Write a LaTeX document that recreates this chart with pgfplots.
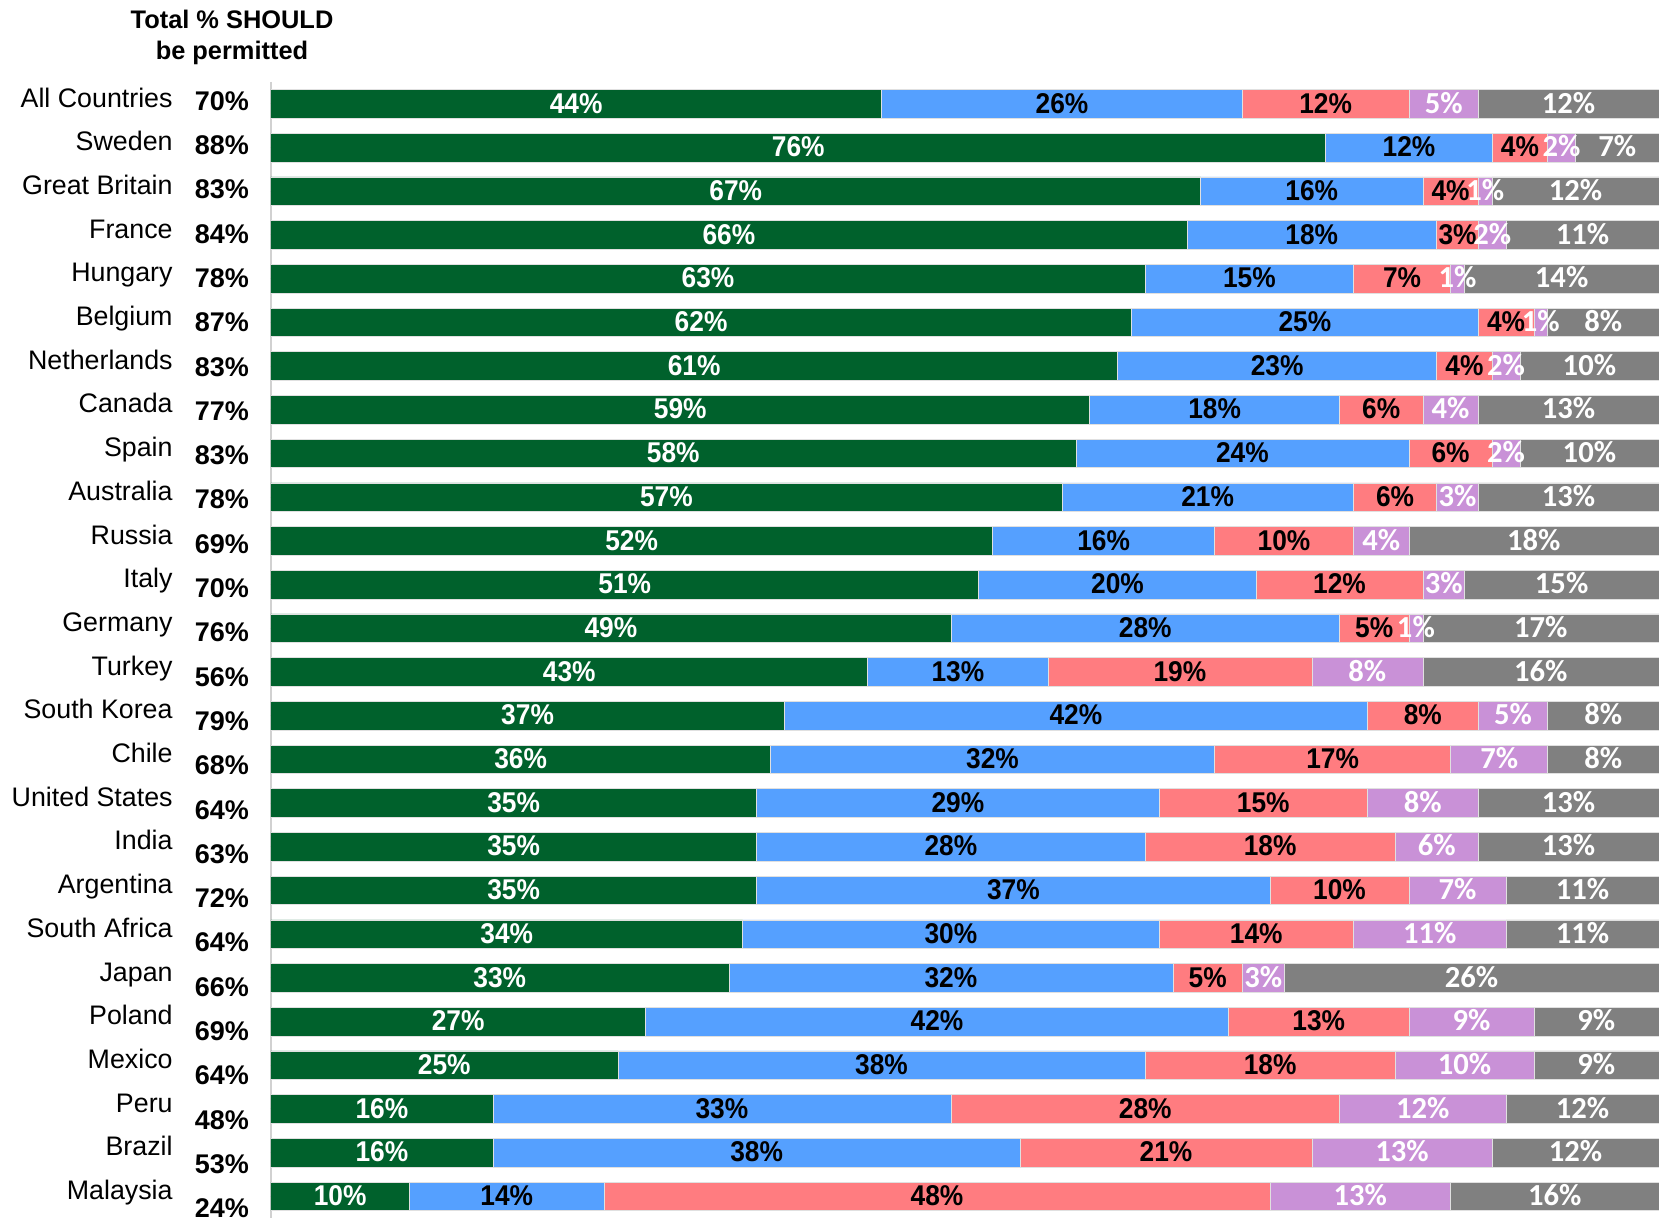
\documentclass[border=0pt]{standalone}
\usepackage{pgfplots}
\pgfplotsset{compat=1.18}
\usepackage{pgfplotstable}
\usepackage{graphicx}
\usepackage{fontspec}
\setmainfont{Liberation Sans}
\newfontfamily\calibri{Carlito}

\definecolor{cgreen}{RGB}{0,97,44}
\definecolor{cblue}{RGB}{85,160,255}
\definecolor{cred}{RGB}{255,124,128}
\definecolor{cpurple}{RGB}{201,145,215}
\definecolor{cgray}{RGB}{128,128,128}

\pgfplotstableread[col sep=comma]{
name,tot,g,b,r,p,x,xl
All Countries,70,44,26,12,5,13,12
Sweden,88,76,12,4,2,6,7
Great Britain,83,67,16,4,1,12,12
France,84,66,18,3,2,11,11
Hungary,78,63,15,7,1,14,14
Belgium,87,62,25,4,1,8,8
Netherlands,83,61,23,4,2,10,10
Canada,77,59,18,6,4,13,13
Spain,83,58,24,6,2,10,10
Australia,78,57,21,6,3,13,13
Russia,69,52,16,10,4,18,18
Italy,70,51,20,12,3,14,15
Germany,76,49,28,5,1,17,17
Turkey,56,43,13,19,8,17,16
South Korea,79,37,42,8,5,8,8
Chile,68,36,32,17,7,8,8
United States,64,35,29,15,8,13,13
India,63,35,28,18,6,13,13
Argentina,72,35,37,10,7,11,11
South Africa,64,34,30,14,11,11,11
Japan,66,33,32,5,3,27,26
Poland,69,27,42,13,9,9,9
Mexico,64,25,38,18,10,9,9
Peru,48,16,33,28,12,11,12
Brazil,53,16,38,21,13,12,12
Malaysia,24,10,14,48,13,15,16
}\data

\pgfplotsset{
  common/.style={at={(0,0)}, anchor=south west, scale only axis,
    width=694pt, height=568.1pt, xmin=0, xmax=100, ymin=-0.5, ymax=25.5,
    y dir=reverse},
  seg/.style={fill=#1, draw=black!12, line width=0.3pt},
  lbl/.style={only marks, mark=*, mark size=0pt, mark options={draw=none,fill=none},
    point meta=explicit symbolic,
    every node near coord/.append style={anchor=center, inner sep=0pt,
      text height=0.72em, text depth=0pt, yshift=-1pt, #1}},
}
\newcommand{\narrowfont}{\bfseries\fontsize{14.3}{16}\selectfont}
\newcommand{\calfont}{\calibri\bfseries\fontsize{15.3}{17}\selectfont}

\begin{document}
\begin{tikzpicture}
\useasboundingbox (-135.4pt,-2.43pt) rectangle (703.6pt,609.07pt);
\begin{axis}[common,
  xbar stacked, bar width=14.3pt,
  axis x line=none, axis y line*=left,
  y axis line style={-, draw=black!18, line width=1pt},
  xtick=\empty, ytick=\empty]
\addplot[seg=cgreen] table[x=g, y expr=\coordindex]{\data};
\addplot[seg=cblue] table[x=b, y expr=\coordindex]{\data};
\addplot[seg=cred] table[x=r, y expr=\coordindex]{\data};
\addplot[seg=cpurple] table[x=p, y expr=\coordindex]{\data};
\addplot[seg=cgray] table[x=x, y expr=\coordindex]{\data};
\end{axis}
\begin{axis}[common, hide axis, clip=false]
\addplot[lbl={font=\narrowfont, color=white},
  nodes near coords={\scalebox{0.92}[1]{\pgfplotspointmeta\%}}]
  table[x expr=\thisrow{g}/2, y expr=\coordindex, meta=g]{\data};
\addplot[lbl={font=\narrowfont, color=black},
  nodes near coords={\scalebox{0.92}[1]{\pgfplotspointmeta\%}}]
  table[x expr=\thisrow{g}+\thisrow{b}/2, y expr=\coordindex, meta=b]{\data};
\addplot[lbl={font=\narrowfont, color=black},
  nodes near coords={\scalebox{0.92}[1]{\pgfplotspointmeta\%}}]
  table[x expr=\thisrow{g}+\thisrow{b}+\thisrow{r}/2, y expr=\coordindex, meta=r]{\data};
\addplot[lbl={font=\calfont, color=white},
  nodes near coords={\pgfplotspointmeta\%}]
  table[x expr=\thisrow{g}+\thisrow{b}+\thisrow{r}+\thisrow{p}/2, y expr=\coordindex, meta=p]{\data};
\addplot[lbl={font=\calfont, color=white},
  nodes near coords={\pgfplotspointmeta\%}]
  table[x expr=\thisrow{g}+\thisrow{b}+\thisrow{r}+\thisrow{p}+\thisrow{x}/2, y expr=\coordindex, meta=xl]{\data};
% country names
\addplot[lbl={anchor=east, xshift=-48.9pt, yshift=3pt, font=\fontsize{13.4}{15}\selectfont, color=black},
  nodes near coords={\pgfplotspointmeta}]
  table[x expr=0, y expr=\coordindex, meta=name]{\data};
% totals
\addplot[lbl={xshift=-24.4pt, yshift={(1.4-0.3*\rowidx)*1pt}, font=\bfseries\fontsize{13.5}{16}\selectfont, color=black},
  visualization depends on={\coordindex \as \rowidx},
  nodes near coords={\pgfplotspointmeta\%}]
  table[x expr=0, y expr=\coordindex, meta=tot]{\data};
\end{axis}
\node[align=center, font=\bfseries\fontsize{12.7}{15.5}\selectfont] at (-19.4pt,590.2pt) {Total \% SHOULD\\be permitted};
\end{tikzpicture}
\end{document}
